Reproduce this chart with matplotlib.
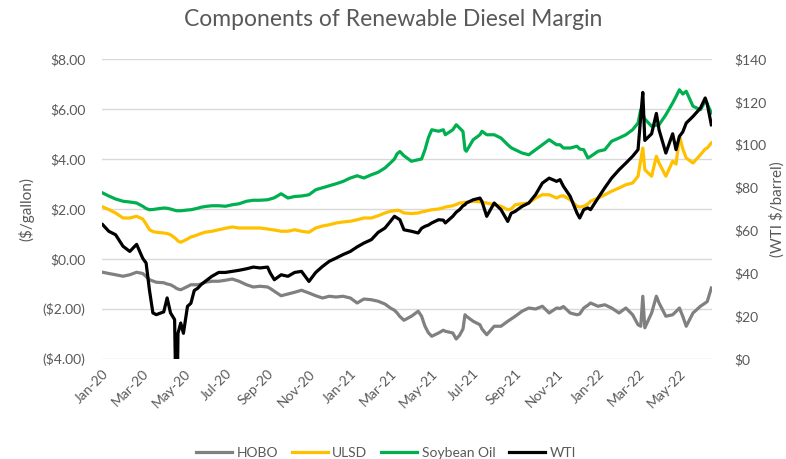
import matplotlib
matplotlib.use("Agg")
import matplotlib.pyplot as plt
import matplotlib.dates as mdates
import pandas as pd

dates = [
    "2020-01-02", "2020-01-11", "2020-01-21", "2020-02-01", "2020-02-11", "2020-02-21",
    "2020-03-01", "2020-03-06", "2020-03-11", "2020-03-16", "2020-03-21", "2020-04-01",
    "2020-04-06", "2020-04-11", "2020-04-17", "2020-04-20", "2020-04-22", "2020-04-26",
    "2020-04-30", "2020-05-06", "2020-05-11", "2020-05-16", "2020-05-21", "2020-05-26",
    "2020-06-01", "2020-06-11", "2020-06-21", "2020-07-01", "2020-07-11", "2020-07-21",
    "2020-08-01", "2020-08-11", "2020-08-21", "2020-09-01", "2020-09-05", "2020-09-11",
    "2020-09-21", "2020-10-01", "2020-10-11", "2020-10-21", "2020-11-01", "2020-11-11",
    "2020-11-21", "2020-12-01", "2020-12-11", "2020-12-21", "2021-01-01", "2021-01-11",
    "2021-01-21", "2021-02-01", "2021-02-11", "2021-02-21", "2021-03-01", "2021-03-07",
    "2021-03-11", "2021-03-15", "2021-03-21", "2021-04-01", "2021-04-11", "2021-04-16",
    "2021-04-21", "2021-04-26", "2021-05-01", "2021-05-11", "2021-05-18", "2021-05-21",
    "2021-06-01", "2021-06-06", "2021-06-11", "2021-06-16", "2021-06-19", "2021-06-21",
    "2021-07-01", "2021-07-11", "2021-07-14", "2021-07-21", "2021-08-01", "2021-08-11",
    "2021-08-21", "2021-08-26", "2021-09-01", "2021-09-11", "2021-09-21", "2021-10-01",
    "2021-10-11", "2021-10-21", "2021-11-01", "2021-11-06", "2021-11-11", "2021-11-21",
    "2021-12-01", "2021-12-05", "2021-12-11", "2021-12-17", "2021-12-21", "2022-01-01",
    "2022-01-11", "2022-01-21", "2022-02-01", "2022-02-11", "2022-02-21", "2022-03-01",
    "2022-03-05", "2022-03-08", "2022-03-11", "2022-03-21", "2022-03-28", "2022-04-01",
    "2022-04-11", "2022-04-21", "2022-04-26", "2022-05-01", "2022-05-06", "2022-05-11",
    "2022-05-21", "2022-06-01", "2022-06-08", "2022-06-11", "2022-06-17",
]

hobo = [
    -0.53, -0.58, -0.63, -0.69, -0.63, -0.53,
    -0.58, -0.70, -0.83, -0.88, -0.93, -0.95,
    -1.00, -1.03, -1.12, -1.18, -1.20, -1.23,
    -1.18, -1.10, -1.03, -1.03, -1.03, -1.00,
    -0.93, -0.89, -0.89, -0.85, -0.80, -0.89,
    -1.03, -1.12, -1.09, -1.12, -1.18, -1.29,
    -1.47, -1.40, -1.33, -1.25, -1.36, -1.47,
    -1.56, -1.49, -1.52, -1.49, -1.56, -1.76,
    -1.60, -1.63, -1.69, -1.80, -1.96, -2.05,
    -2.16, -2.30, -2.45, -2.29, -2.09, -2.29,
    -2.69, -2.95, -3.09, -2.96, -2.85, -2.89,
    -2.96, -3.20, -3.05, -2.80, -2.23, -2.29,
    -2.49, -2.63, -2.80, -3.03, -2.69, -2.69,
    -2.49, -2.40, -2.29, -2.09, -1.96, -2.00,
    -1.89, -2.16, -1.96, -1.98, -1.90, -2.16,
    -2.23, -2.20, -1.96, -1.85, -1.76, -1.89,
    -1.83, -1.96, -2.16, -1.96, -2.23, -2.63,
    -2.69, -1.49, -2.75, -2.16, -1.49, -1.76,
    -2.29, -2.23, -2.10, -1.96, -2.30, -2.69,
    -2.16, -1.89, -1.76, -1.70, -1.16,
]

ulsd = [
    2.08, 1.98, 1.84, 1.64, 1.64, 1.71,
    1.60, 1.40, 1.17, 1.10, 1.07, 1.04,
    1.02, 0.97, 0.85, 0.78, 0.72, 0.67,
    0.72, 0.80, 0.88, 0.92, 0.97, 1.02,
    1.07, 1.11, 1.17, 1.23, 1.28, 1.24,
    1.24, 1.24, 1.24, 1.20, 1.18, 1.16,
    1.11, 1.11, 1.17, 1.11, 1.07, 1.24,
    1.32, 1.37, 1.44, 1.48, 1.51, 1.57,
    1.64, 1.64, 1.73, 1.84, 1.91, 1.93,
    1.95, 1.93, 1.84, 1.82, 1.84, 1.88,
    1.91, 1.94, 1.97, 2.00, 2.05, 2.08,
    2.13, 2.18, 2.24, 2.25, 2.27, 2.27,
    2.31, 2.29, 2.27, 2.24, 2.17, 2.11,
    1.97, 2.00, 2.17, 2.21, 2.24, 2.44,
    2.57, 2.57, 2.44, 2.51, 2.53, 2.37,
    2.11, 2.08, 2.11, 2.20, 2.31, 2.44,
    2.57, 2.71, 2.84, 2.97, 3.04, 3.31,
    3.97, 4.44, 3.57, 3.31, 4.11, 3.84,
    3.31, 3.91, 3.80, 4.91, 4.40, 4.04,
    3.84, 4.17, 4.40, 4.44, 4.64,
]

soybean = [
    2.64, 2.52, 2.40, 2.31, 2.28, 2.24,
    2.11, 2.02, 1.97, 1.98, 2.00, 2.04,
    2.03, 2.00, 1.95, 1.93, 1.93, 1.93,
    1.94, 1.96, 1.97, 2.00, 2.03, 2.07,
    2.10, 2.13, 2.13, 2.11, 2.17, 2.21,
    2.31, 2.35, 2.35, 2.37, 2.40, 2.45,
    2.61, 2.44, 2.50, 2.52, 2.57, 2.77,
    2.85, 2.93, 3.01, 3.10, 3.24, 3.33,
    3.24, 3.37, 3.47, 3.64, 3.84, 4.00,
    4.21, 4.30, 4.13, 3.91, 3.97, 4.00,
    4.37, 4.85, 5.17, 5.11, 5.17, 4.97,
    5.17, 5.37, 5.24, 5.10, 4.37, 4.31,
    4.77, 4.97, 5.11, 4.97, 4.97, 4.84,
    4.57, 4.45, 4.37, 4.24, 4.17, 4.37,
    4.57, 4.77, 4.57, 4.57, 4.44, 4.44,
    4.51, 4.40, 4.37, 4.04, 4.10, 4.31,
    4.37, 4.71, 4.84, 4.97, 5.17, 5.44,
    5.97, 5.77, 5.60, 5.31, 5.35, 5.37,
    5.77, 6.24, 6.50, 6.77, 6.60, 6.71,
    6.11, 5.97, 6.31, 6.20, 5.84,
]

wti = [
    62.7, 59.6, 58.0, 52.6, 50.2, 53.5,
    47.0, 44.8, 32.0, 21.5, 20.7, 22.0,
    28.5, 21.5, 18.4, -37.6, 12.0, 16.8,
    12.0, 24.6, 26.0, 32.0, 33.0, 34.7,
    36.2, 38.6, 40.4, 40.4, 40.9, 41.4,
    42.1, 42.9, 42.5, 42.9, 40.1, 37.0,
    39.3, 38.6, 40.4, 40.9, 36.2, 40.4,
    43.2, 45.6, 47.1, 48.7, 50.2, 52.3,
    54.1, 55.7, 59.1, 61.1, 64.2, 66.6,
    65.8, 65.0, 60.3, 59.6, 58.8, 61.0,
    61.9, 62.5, 63.5, 65.0, 64.8, 63.5,
    66.6, 68.5, 69.7, 71.5, 72.0, 72.8,
    74.3, 75.1, 73.5, 66.6, 72.8, 69.7,
    64.2, 68.0, 68.9, 71.2, 72.8, 76.7,
    82.1, 84.4, 82.9, 83.7, 80.6, 75.9,
    68.1, 65.8, 69.7, 70.5, 69.7, 75.1,
    79.9, 84.4, 88.3, 91.4, 94.6, 97.7,
    113.2, 124.4, 102.0, 105.1, 114.6, 106.9,
    96.1, 105.1, 97.7, 103.9, 106.0, 110.1,
    113.2, 117.1, 121.8, 119.0, 109.3,
]

left_ticks = [-4, -2, 0, 2, 4, 6, 8]
left_labels = ["($4.00)", "($2.00)", "$0.00", "$2.00", "$4.00", "$6.00", "$8.00"]
right_ticks = [0, 20, 40, 60, 80, 100, 120, 140]
right_labels = ["$0", "$20", "$40", "$60", "$80", "$100", "$120", "$140"]

x = pd.to_datetime(dates)
txt = "#595959"
plt.rcParams["font.family"] = ["Lato", "DejaVu Sans"]

fig = plt.figure(figsize=(7.86, 4.59), dpi=100)
ax = fig.add_axes([102 / 786, 1 - 359 / 459, 610 / 786, 300 / 459])
ax2 = ax.twinx()

l1, = ax.plot(x, hobo, color="#808080", lw=2.3, label="HOBO")
l2, = ax.plot(x, ulsd, color="#FFC000", lw=2.3, label="ULSD")
l3, = ax.plot(x, soybean, color="#00B050", lw=2.3, label="Soybean Oil")
l4, = ax2.plot(x, wti, color="black", lw=2.3, label="WTI")

ax.set_ylim(-4, 8)
ax2.set_ylim(0, 140)
ax.set_xlim(pd.Timestamp("2020-01-01"), pd.Timestamp("2022-06-18"))

ax.set_yticks(left_ticks)
ax.set_yticklabels(left_labels)
ax2.set_yticks(right_ticks)
ax2.set_yticklabels(right_labels)
ax.grid(axis="y", color="#d9d9d9", lw=1)
ax.set_axisbelow(True)

ax.xaxis.set_major_locator(mdates.MonthLocator(bymonth=[1, 3, 5, 7, 9, 11]))
ax.xaxis.set_major_formatter(mdates.DateFormatter("%b-%y"))
for lab in ax.get_xticklabels():
    lab.set_rotation(45)
    lab.set_ha("right")
    lab.set_rotation_mode("anchor")

for a in (ax, ax2):
    for s in a.spines.values():
        s.set_visible(False)
    a.tick_params(length=0, colors=txt, labelsize=10)
ax.tick_params(axis="x", pad=6)
ax.tick_params(axis="y", pad=12)
ax2.tick_params(axis="y", pad=16)

ax.set_ylabel("($/gallon)", color=txt, fontsize=11, labelpad=6)
ax2.set_ylabel("(WTI $/barrel)", color=txt, fontsize=11, labelpad=2)

fig.text(0.5, 1 - 20 / 459, "Components of Renewable Diesel Margin", ha="center", va="center",
         color=txt, fontsize=16.5)

fig.legend(handles=[l1, l2, l3, l4], loc="center", bbox_to_anchor=(386 / 786, 1 - 453 / 459),
           ncol=4, frameon=False, fontsize=10, labelcolor=txt, handlelength=2.6,
           handletextpad=0.3, columnspacing=1.0)

fig.savefig("out.png", dpi=100)
